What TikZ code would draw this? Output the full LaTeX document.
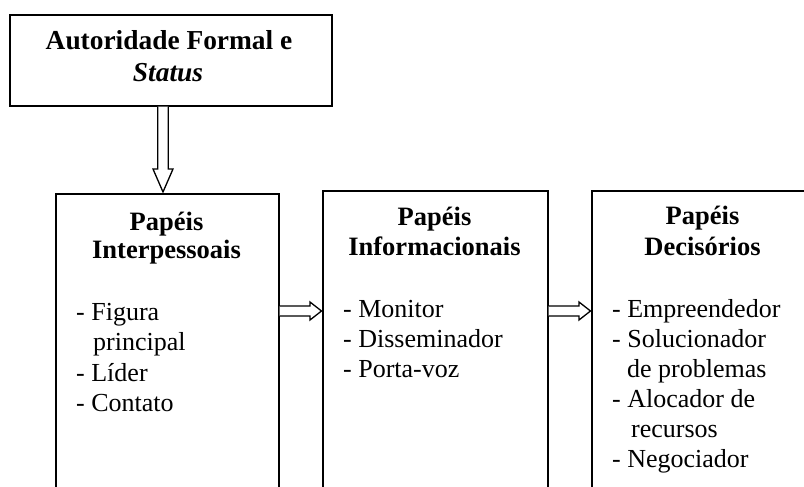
\documentclass[tikz,border=0pt]{standalone}
\usepackage{fontspec}
\setmainfont{Liberation Serif}
\usetikzlibrary{calc}
\begin{document}
\begin{tikzpicture}[x=1pt,y=-1pt,
  box/.style={draw,line width=1.6pt,rectangle,inner sep=0pt,anchor=north west},
  ttl/.style={inner sep=0pt,anchor=base,font=\fontsize{26.5}{30}\selectfont\bfseries},
  itm/.style={inner sep=0pt,anchor=base west,font=\fontsize{26}{30}\selectfont},
  fat/.style={draw,line width=1.3pt,fill=white,line join=miter}]
\useasboundingbox (0,0) rectangle (804,487);
\clip (0,0) rectangle (804,487);
% boxes
\node[box,minimum width=322pt,minimum height=91pt] (auth) at (9,14) {};
\node[box,minimum width=223pt,minimum height=400pt] (inter) at (55,193) {};
\node[box,minimum width=225pt,minimum height=400pt] (info) at (322,190) {};
\node[box,minimum width=300pt,minimum height=400pt] (deci) at (591,190) {};
% top box text
\node[ttl,font=\fontsize{27.4}{30}\selectfont\bfseries] (t1) at (169,50) {Autoridade Formal e};
\node[ttl,font=\fontsize{27.4}{30}\selectfont\bfseries\itshape] (t2) at (168,82) {Status};
% box 1
\node[ttl] (p1) at (166.5,230) {Papéis};
\node[ttl] (p1b) at (166.5,258) {Interpessoais};
\node[itm] (i11) at (76,320) {- Figura};
\node[itm] (i12) at (93,350.5) {principal};
\node[itm] (i13) at (76,381) {- Líder};
\node[itm] (i14) at (76,411.5) {- Contato};
% box 2
\node[ttl] (p2) at (434.5,225) {Papéis};
\node[ttl] (p2b) at (434.5,255) {Informacionais};
\node[itm] (i21) at (343,317) {- Monitor};
\node[itm] (i22) at (343,347) {- Disseminador};
\node[itm] (i23) at (343,377) {- Porta-voz};
% box 3
\node[ttl] (p3) at (702.5,224) {Papéis};
\node[ttl] (p3b) at (702.5,255) {Decisórios};
\node[itm] (i31) at (612,317) {- Empreendedor};
\node[itm] (i32) at (612,347) {- Solucionador};
\node[itm] (i33) at (627,377) {de problemas};
\node[itm] (i34) at (612,407) {- Alocador de};
\node[itm] (i35) at (631,437) {recursos};
\node[itm] (i36) at (612,467) {- Negociador};
% vertical hollow arrow
\path let \p1=(auth.south), \p2=(inter.north) in
  coordinate (va) at (163,\y1) coordinate (vb) at (163,\y2);
\draw[fat] ($(va)+(-5.3,0)$) -- ($(vb)+(-5.3,-24)$) -- ($(vb)+(-10,-24)$) -- ($(vb)+(0,-1)$)
  -- ($(vb)+(10,-24)$) -- ($(vb)+(5.3,-24)$) -- ($(va)+(5.3,0)$);
% horizontal hollow arrows
\path let \p1=(inter.east), \p2=(info.west) in
  coordinate (ha) at (\x1,311) coordinate (hb) at (\x2,311);
\draw[fat] ($(ha)+(0,-5)$) -- ($(hb)+(-12,-5)$) -- ($(hb)+(-12,-9)$) -- ($(hb)+(-0.5,0)$)
  -- ($(hb)+(-12,9)$) -- ($(hb)+(-12,5)$) -- ($(ha)+(0,5)$);
\path let \p1=(info.east), \p2=(deci.west) in
  coordinate (hc) at (\x1,311) coordinate (hd) at (\x2,311);
\draw[fat] ($(hc)+(0,-5)$) -- ($(hd)+(-12,-5)$) -- ($(hd)+(-12,-9)$) -- ($(hd)+(-0.5,0)$)
  -- ($(hd)+(-12,9)$) -- ($(hd)+(-12,5)$) -- ($(hc)+(0,5)$);
\end{tikzpicture}
\end{document}
